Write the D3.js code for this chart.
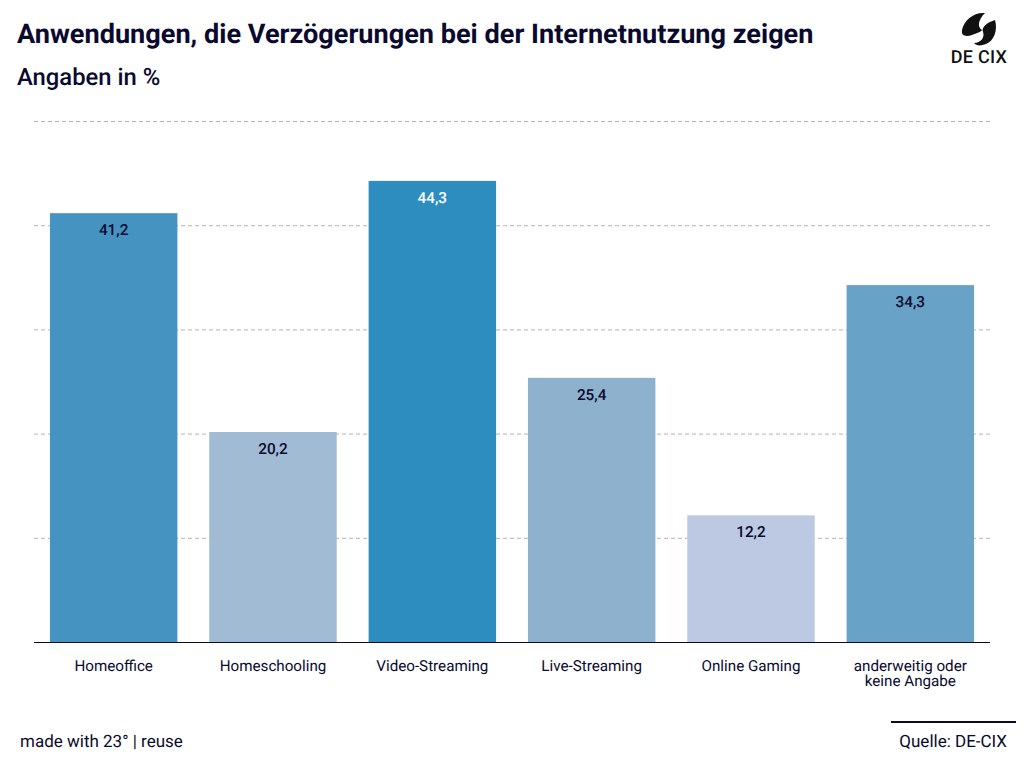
<!DOCTYPE html>
<html>
<head>
<meta charset="utf-8">
<script src="https://cdn.jsdelivr.net/npm/d3@7"></script>
<style>
  html, body { margin: 0; padding: 0; background: #fff; }
  svg { display: block; font-family: Roboto, sans-serif; text-rendering: geometricPrecision; }
  text { fill: #0a0a2e; }
</style>
</head>
<body>
<svg></svg>
<script>
var categories = ['Homeoffice', 'Homeschooling', 'Video-Streaming', 'Live-Streaming', 'Online Gaming', 'anderweitig oder|keine Angabe'];
var values = [41.2, 20.2, 44.3, 25.4, 12.2, 34.3];
var barColors = ['#4493c1', '#a2bbd5', '#2d8dbf', '#8eb2ce', '#bdc9e2', '#68a2c7'];
var labelColors = ['#0a0a2e', '#0a0a2e', '#ffffff', '#0a0a2e', '#0a0a2e', '#0a0a2e'];
var gridTicks = [10, 20, 30, 40, 50];

var width = 1024;
var height = 768;

var svg = d3.select('svg')
  .attr('width', width)
  .attr('height', height);

var xScale = d3.scaleBand()
  .domain(categories)
  .range([34, 990])
  .paddingInner(0.2)
  .paddingOuter(0.1);

var yScale = d3.scaleLinear()
  .domain([0, 50])
  .range([642.5, 121.5]);

// Titles
svg.append('text')
  .attr('x', 17)
  .attr('y', 43)
  .style('font-size', '27.1px')
  .style('font-weight', 700)
  .text('Anwendungen, die Verzögerungen bei der Internetnutzung zeigen');

svg.append('text')
  .attr('x', 17)
  .attr('y', 85)
  .style('font-size', '23.8px')
  .style('font-weight', 500)
  .text('Angaben in %');

// Gridlines
svg.append('g')
  .selectAll('line')
  .data(gridTicks)
  .join('line')
    .attr('x1', 34)
    .attr('x2', 990)
    .attr('y1', d => yScale(d))
    .attr('y2', d => yScale(d))
    .attr('stroke', '#b4b4b4')
    .attr('stroke-dasharray', '4 3');

// Bars
svg.append('g')
  .selectAll('rect')
  .data(values)
  .join('rect')
    .attr('x', (d, i) => xScale(categories[i]))
    .attr('y', d => yScale(d))
    .attr('width', xScale.bandwidth())
    .attr('height', d => yScale(0) - yScale(d))
    .attr('fill', (d, i) => barColors[i]);

// Value labels
svg.append('g')
  .selectAll('text')
  .data(values)
  .join('text')
    .attr('x', (d, i) => xScale(categories[i]) + xScale.bandwidth() / 2)
    .attr('y', d => yScale(d) + 22)
    .attr('text-anchor', 'middle')
    .style('font-size', '15.3px')
    .style('font-weight', 500)
    .style('fill', (d, i) => labelColors[i])
    .text(d => d.toFixed(1).replace('.', ','));

// Baseline
svg.append('line')
  .attr('x1', 34)
  .attr('x2', 990)
  .attr('y1', 642.5)
  .attr('y2', 642.5)
  .attr('stroke', '#0a0a2e');

// Category labels
var xLabels = svg.append('g')
  .selectAll('text')
  .data(categories)
  .join('text')
    .attr('text-anchor', 'middle')
    .attr('y', 671)
    .style('font-size', '15.2px');

xLabels.selectAll('tspan')
  .data(d => d.split('|').map(line => ({ line: line, key: d })))
  .join('tspan')
    .attr('x', d => xScale(d.key) + xScale.bandwidth() / 2)
    .attr('dy', (d, i) => i ? 15 : 0)
    .text(d => d.line);

// Footer
svg.append('text')
  .attr('x', 20)
  .attr('y', 747)
  .style('font-size', '17px')
  .text('made with 23° | reuse');

svg.append('line')
  .attr('x1', 891)
  .attr('x2', 1016)
  .attr('y1', 722)
  .attr('y2', 722)
  .attr('stroke', '#0a0a2e')
  .attr('stroke-width', 2);

svg.append('text')
  .attr('x', 1007)
  .attr('y', 747)
  .attr('text-anchor', 'end')
  .style('font-size', '17px')
  .text('Quelle: DE-CIX');

// Logo
var logo = svg.append('g').attr('fill', '#111111');
logo.append('path')
  .attr('d', 'M985 13 C974 12 964 20 962 30 C961 36 966 37 972 35 C977 33 981 32 982 30 C977 27 978 20 985 13 Z');
logo.append('path')
  .attr('d', 'M995 20 C998 30 994 41 986 44 C981 46 976 46 974 43 C981 43 985 37 983 32 C981 27 988 22 995 20 Z');
logo.append('text')
  .attr('x', 979)
  .attr('y', 63)
  .attr('text-anchor', 'middle')
  .style('font-size', '18px')
  .style('font-weight', 500)
  .style('letter-spacing', '0.3px')
  .style('fill', '#111111')
  .text('DE CIX');
</script>
</body>
</html>
